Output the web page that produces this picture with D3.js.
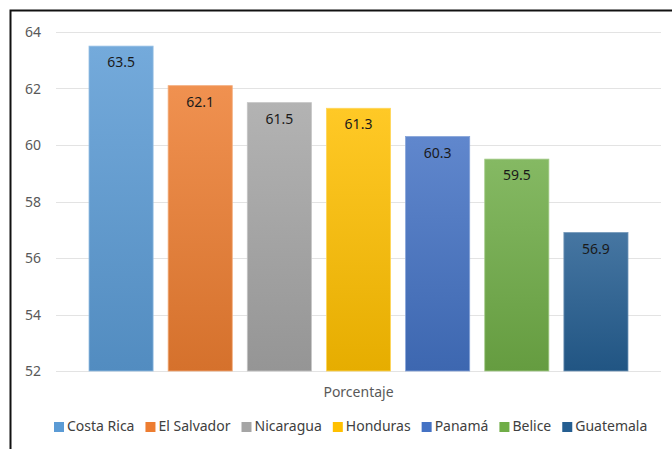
<!DOCTYPE html>
<html>
<head>
<meta charset="utf-8">
<script src="https://cdn.jsdelivr.net/npm/d3@7"></script>
<style>
  body { margin: 0; background: #fff; }
  svg { display: block; font-family: 'Noto Sans', sans-serif; }
</style>
</head>
<body>
<script>
let countries = ['Costa Rica', 'El Salvador', 'Nicaragua', 'Honduras', 'Panamá', 'Belice', 'Guatemala']
let values = [63.5, 62.1, 61.5, 61.3, 60.3, 59.5, 56.9]
let baseColors = ['#5b9bd5', '#ed7d31', '#a5a5a5', '#ffc000', '#4472c4', '#70ad47', '#255e91']
let yTicks = [52, 54, 56, 58, 60, 62, 64]
let categoryLabel = 'Porcentaje'

let width = 672, height = 449
let plot = { left: 56, right: 661, top: 32, bottom: 371 }

let svg = d3.select('body')
    .append('svg')
    .attr('width', width)
    .attr('height', height)

// outer frame (right/bottom edges fall outside the picture)
svg.append('rect')
    .attr('x', 10.5).attr('y', 10.5)
    .attr('width', 700).attr('height', 500)
    .attr('fill', 'none')
    .attr('stroke', '#111')
    .attr('stroke-width', 2)

let y = d3.scaleLinear().domain([52, 64]).range([plot.bottom, plot.top])

let x = d3.scaleBand()
    .domain(countries)
    .range([89, 628])
    .paddingInner(0.19)
    .paddingOuter(0)

let defs = svg.append('defs')
baseColors.forEach((c, i) => {
    let g = defs.append('linearGradient')
        .attr('id', 'grad' + i)
        .attr('x1', 0).attr('y1', 0).attr('x2', 0).attr('y2', 1)
    g.append('stop').attr('offset', '0%').attr('stop-color', d3.interpolateRgb(c, '#fff')(0.15))
    g.append('stop').attr('offset', '100%').attr('stop-color', d3.interpolateRgb(c, '#000')(0.1))
})

// gridlines
svg.append('g')
    .selectAll('line')
    .data(yTicks)
    .enter()
    .append('line')
    .attr('x1', plot.left).attr('x2', plot.right)
    .attr('y1', d => Math.round(y(d)) + 0.5)
    .attr('y2', d => Math.round(y(d)) + 0.5)
    .attr('stroke', '#e3e3e3')
    .attr('stroke-width', 1)

// y axis labels
svg.append('g')
    .selectAll('text')
    .data(yTicks)
    .enter()
    .append('text')
    .attr('x', 25)
    .attr('y', d => y(d) + 5)
    .attr('fill', '#595959')
    .attr('font-size', 14)
    .text(d => d)

// bars
svg.append('g')
    .selectAll('rect')
    .data(values)
    .enter()
    .append('rect')
    .attr('x', (d, i) => x(countries[i]))
    .attr('y', d => y(d))
    .attr('width', x.bandwidth())
    .attr('height', d => y(52) - y(d))
    .attr('fill', (d, i) => 'url(#grad' + i + ')')
    .attr('stroke', (d, i) => d3.interpolateRgb(baseColors[i], '#fff')(0.35))
    .attr('stroke-width', 0.8)

// value labels
svg.append('g')
    .selectAll('text')
    .data(values)
    .enter()
    .append('text')
    .attr('x', (d, i) => x(countries[i]) + x.bandwidth() / 2)
    .attr('y', d => y(d) + 21)
    .attr('text-anchor', 'middle')
    .attr('fill', '#1a1a1a')
    .attr('font-size', 14)
    .text(d => d.toFixed(1))

// category label
svg.append('text')
    .attr('x', (plot.left + plot.right) / 2)
    .attr('y', 397)
    .attr('text-anchor', 'middle')
    .attr('fill', '#595959')
    .attr('font-size', 14)
    .text(categoryLabel)

// legend
let legend = svg.append('g')
let lx = 54
countries.forEach((c, i) => {
    legend.append('rect')
        .attr('x', lx).attr('y', 422)
        .attr('width', 10).attr('height', 10)
        .attr('fill', baseColors[i])
    let t = legend.append('text')
        .attr('x', lx + 13)
        .attr('y', 431)
        .attr('fill', '#404040')
        .attr('font-size', 14)
        .text(c)
    lx += 13 + t.node().getComputedTextLength() + 11
})
</script>
</body>
</html>
